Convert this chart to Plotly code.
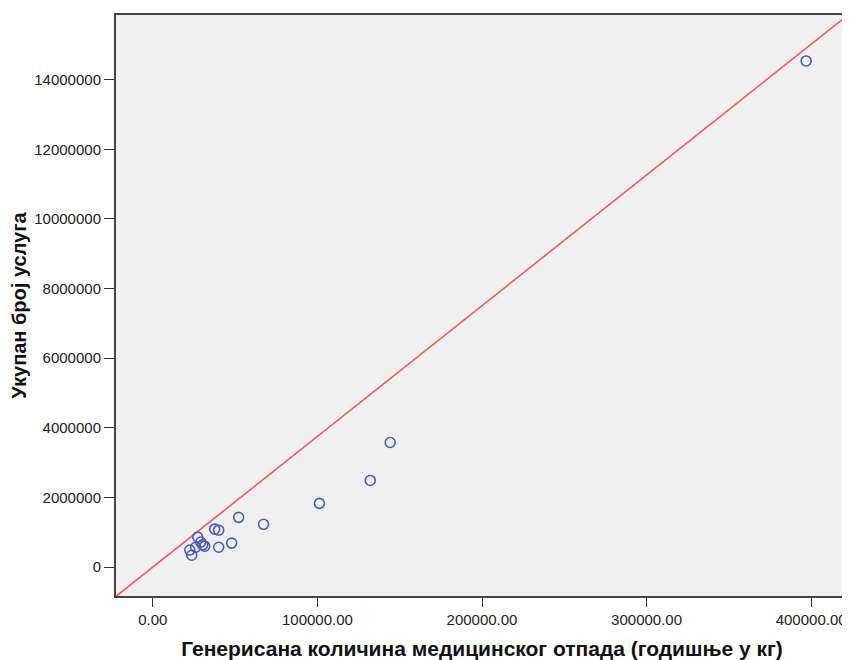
import plotly.graph_objects as go

# Data
waste_kg = [396970, 144242, 132121, 101212, 67273, 52121, 47879, 37576, 40000,
            40000, 27273, 29091, 31515, 30300, 22424, 23636, 26000]
services = [14540000, 3580000, 2490000, 1830000, 1230000, 1430000, 690000, 1090000, 1060000,
            570000, 860000, 720000, 600000, 640000, 490000, 340000, 570000]

# Reference line (through origin)
line_x = [-22400, 422400]
line_slope = 37.55
line_y = [v * line_slope for v in line_x]

x_tickvals = [0, 100000, 200000, 300000, 400000]
x_ticktext = ["0.00", "100000.00", "200000.00", "300000.00", "400000.00"]
y_tickvals = [0, 2000000, 4000000, 6000000, 8000000, 10000000, 12000000, 14000000]
y_ticktext = [str(v) for v in y_tickvals]

x_title = "Генерисана количина медицинског отпада (годишње у кг)"
y_title = "Укупан број услуга"

fig = go.Figure()
fig.add_trace(go.Scatter(x=line_x, y=line_y, mode="lines",
                         line=dict(color="#f25a5a", width=1.6),
                         hoverinfo="skip", showlegend=False))
fig.add_trace(go.Scatter(x=waste_kg, y=services, mode="markers",
                         marker=dict(symbol="circle-open", size=10,
                                     color="#4a5cb8", line=dict(width=1.6)),
                         showlegend=False))

axis_font = dict(family="Liberation Sans, Arial, sans-serif", size=15, color="#222222")
x_title_font = dict(family="Liberation Sans, Arial, sans-serif", size=21, color="#111111")
y_title_font = dict(family="Liberation Sans, Arial, sans-serif", size=20, color="#111111")

fig.update_layout(
    width=842, height=652,
    margin=dict(l=108, r=2, t=7, b=64, autoexpand=False),
    paper_bgcolor="white",
    plot_bgcolor="#f0f0f0",
    xaxis=dict(range=[-22400, 422400], tickvals=x_tickvals, ticktext=x_ticktext,
               showgrid=False, zeroline=False, ticks="outside", ticklen=9,
               tickcolor="#333333", tickfont=axis_font, automargin=False,
               showline=True, linecolor="#444444", linewidth=2, mirror=True,
               title=dict(text="<b>" + x_title + "</b>", font=x_title_font, standoff=15)),
    yaxis=dict(range=[-830000, 15860000], tickvals=y_tickvals, ticktext=y_ticktext,
               showgrid=False, zeroline=False, ticks="outside", ticklen=10,
               tickcolor="#333333", tickfont=axis_font, automargin=False,
               showline=True, linecolor="#444444", linewidth=2, mirror=True,
               title=dict(text="<b>" + y_title + "</b>", font=y_title_font, standoff=8)),
)

fig.write_html("out.html")
